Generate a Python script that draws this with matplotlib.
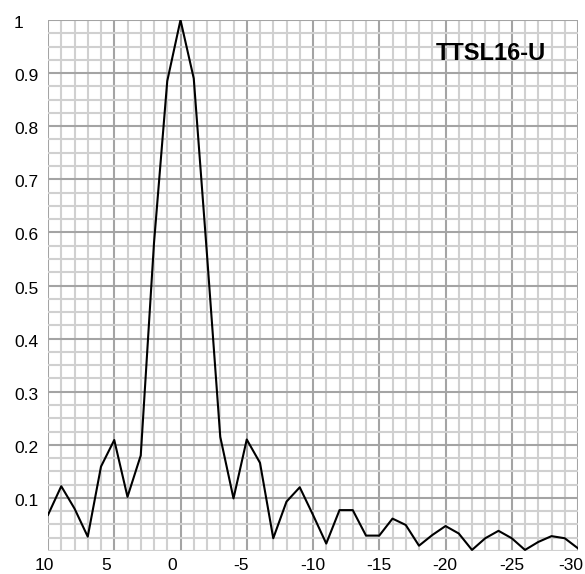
import numpy as np
import matplotlib
matplotlib.use('Agg')
import matplotlib.pyplot as plt
from matplotlib.ticker import MultipleLocator
from matplotlib.transforms import ScaledTranslation

# valores
angulos = [10, 9, 8, 7, 6, 5, 4, 3, 2, 1, 0,
           -1, -2, -3, -4, -5, -6, -7, -8, -9, -10,
           -11, -12, -13, -14, -15, -16, -17, -18, -19, -20,
           -21, -22, -23, -24, -25, -26, -27, -28, -29, -30]
amplitud = [0.068, 0.122, 0.080, 0.027, 0.159, 0.209, 0.102, 0.180, 0.580, 0.885, 1.0,
            0.890, 0.558, 0.215, 0.099, 0.210, 0.166, 0.024, 0.093, 0.120, 0.068,
            0.014, 0.077, 0.077, 0.029, 0.029, 0.061, 0.049, 0.010, 0.030, 0.047,
            0.033, 0.002, 0.024, 0.038, 0.024, 0.002, 0.017, 0.028, 0.024, 0.005]
xticks = [10, 5, 0, -5, -10, -15, -20, -25, -30]
yticks = [0.1, 0.2, 0.3, 0.4, 0.5, 0.6, 0.7, 0.8, 0.9, 1]
etiqueta = 'TTSL16-U'

plt.rcParams['font.family'] = ['Liberation Sans', 'DejaVu Sans']

W, H = 585, 574
fig = plt.figure(figsize=(W / 100, H / 100), dpi=100)
ax = fig.add_axes([48 / W, 23 / H, 530 / W, 531 / H])

ax.set_xlim(10, -30)
ax.set_ylim(0, 1)

# rejilla
ax.xaxis.set_minor_locator(MultipleLocator(1))
ax.yaxis.set_minor_locator(MultipleLocator(0.025))
ax.grid(which='minor', color='#d0d0d0', linewidth=1.5)
ax.grid(which='major', color='#a4a4a4', linewidth=1.5)
ax.set_axisbelow(True)
for s in ax.spines.values():
    s.set_visible(False)

ax.plot(angulos, amplitud, color='black', linewidth=1.5, zorder=3)

ax.set_xticks(xticks)
ax.set_xticklabels([str(v) for v in xticks])
ax.set_yticks(yticks)
ax.set_yticklabels([f'{v:g}' for v in yticks])
ax.tick_params(which='both', length=0)
ax.tick_params(axis='y', pad=24.5, labelsize=12.5)
ax.tick_params(axis='x', pad=5, labelsize=12.5)
off_y = ScaledTranslation(0, -2 / 100, fig.dpi_scale_trans)
for lab in ax.get_yticklabels():
    lab.set_horizontalalignment('left')
    lab.set_transform(lab.get_transform() + off_y)
for v, lab in zip(xticks, ax.get_xticklabels()):
    # etiquetas corridas a la izquierda de la línea, la última cabe en el borde
    dx = -13 if v != -30 else -20
    lab.set_horizontalalignment('left')
    lab.set_transform(lab.get_transform() + ScaledTranslation(dx / 100, 0, fig.dpi_scale_trans))

ax.text(491 / W, 1 - 53 / H, etiqueta, transform=fig.transFigure,
        fontsize=17, fontweight='bold', ha='center', va='center')

fig.savefig('out.png', dpi=100)
